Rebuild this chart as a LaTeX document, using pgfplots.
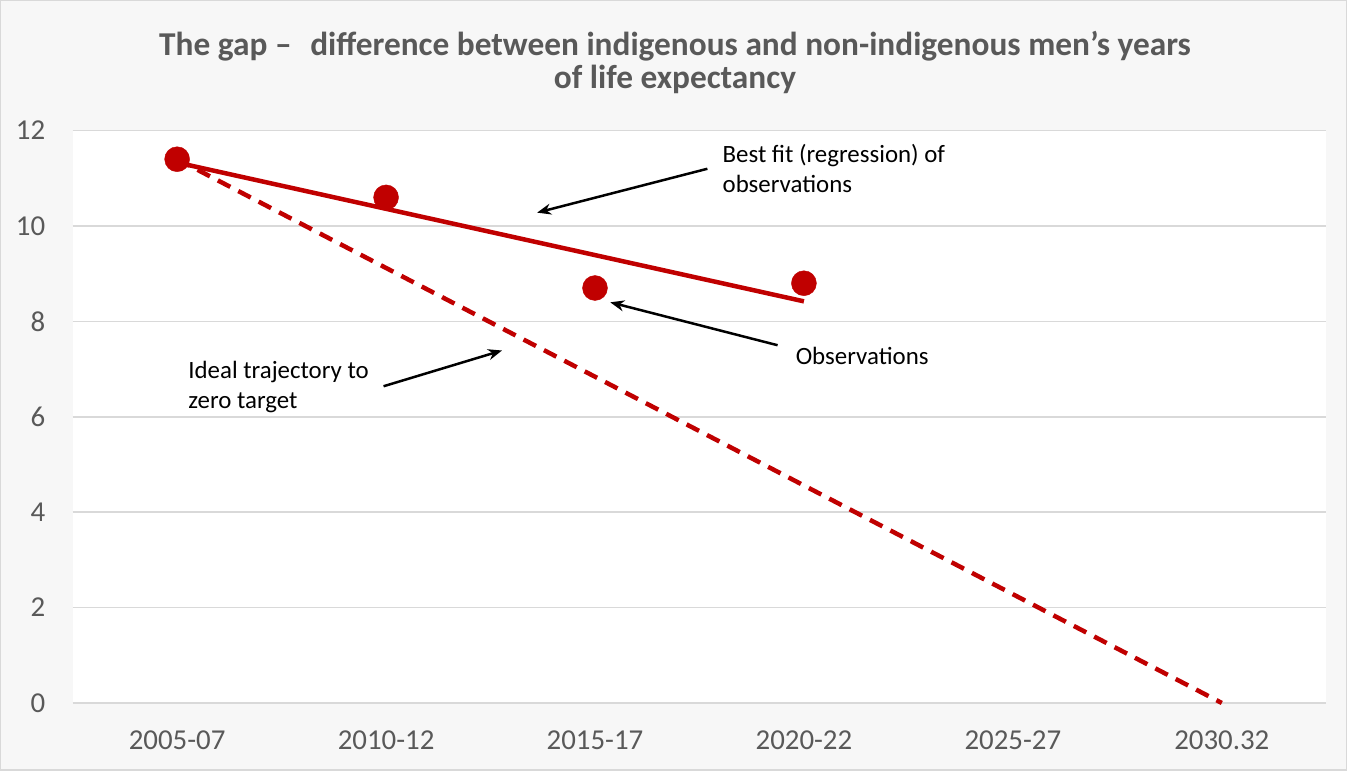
\documentclass[border=0pt]{standalone}
\usepackage{pgfplots}
\pgfplotsset{compat=1.18}
\usepackage{fontspec}
\setmainfont{Carlito}
\usetikzlibrary{arrows.meta}
\definecolor{darkred}{HTML}{C00000}
\definecolor{gridgray}{HTML}{D9D9D9}
\definecolor{txtgray}{HTML}{595959}
\definecolor{bggray}{HTML}{F7F7F7}
\begin{document}
\begin{tikzpicture}
\fill[bggray, draw=gridgray, line width=1.5bp] (-72bp,-67bp) rectangle (1275bp,703bp);
\useasboundingbox (-72bp,-67bp) rectangle (1275bp,703bp);
\fill[white] (0,0) rectangle (1255bp,573bp);
\begin{axis}[
  at={(0,0)}, anchor=south west,
  scale only axis, width=1255bp, height=573bp,
  xmin=-0.5, xmax=5.5, ymin=0, ymax=12,
  xtick={0,1,2,3,4,5},
  xticklabels={2005-07,2010-12,2015-17,2020-22,2025-27,2030.32},
  ytick={0,2,4,6,8,10,12},
  ymajorgrids, grid style={gridgray, line width=1.5bp},
  axis line style={draw=none},
  tick style={draw=none},
  ticklabel style={font=\fontsize{29}{33}\selectfont, text=txtgray},
  /pgf/number format/assume math mode=true,
  yticklabel style={xshift=-24bp},
  xticklabel style={yshift=-24bp},
  clip=false,
]
\addplot[darkred, line width=4.5bp, dash pattern=on 14bp off 9bp] coordinates {(0,11.4) (5,0)};
\addplot[darkred, line width=4.5bp] coordinates {(0,11.33) (3,8.42)};
\addplot[only marks, mark=*, mark size=12.5bp, mark options={fill=darkred, draw=darkred}] coordinates {(0,11.4) (1,10.6) (2,8.7) (3,8.8)};
\draw[-{Stealth[length=14bp,width=11bp]}, line width=2.5bp] (axis cs:2.538,11.20) -- (axis cs:1.723,10.28);
\draw[-{Stealth[length=14bp,width=11bp]}, line width=2.5bp] (axis cs:2.874,7.50) -- (axis cs:2.073,8.40);
\draw[-{Stealth[length=14bp,width=11bp]}, line width=2.5bp] (axis cs:0.988,6.64) -- (axis cs:1.555,7.39);
\node[anchor=west, align=left, font=\fontsize{25}{30}\selectfont, inner sep=0pt] at (axis cs:2.61,11.2) {Best fit (regression) of\\observations};
\node[anchor=west, font=\fontsize{25}{30}\selectfont, inner sep=0pt] at (axis cs:2.96,7.27) {Observations};
\node[anchor=west, align=left, font=\fontsize{25}{30}\selectfont, inner sep=0pt] at (axis cs:0.053,6.62) {Ideal trajectory to\\zero target};
\end{axis}
\node[align=center, font=\bfseries\fontsize{33.5}{33}\selectfont, text=txtgray] at (603bp,641bp) {The gap --\,\, difference between indigenous and non-indigenous men's years\\of life expectancy};
\end{tikzpicture}
\end{document}
